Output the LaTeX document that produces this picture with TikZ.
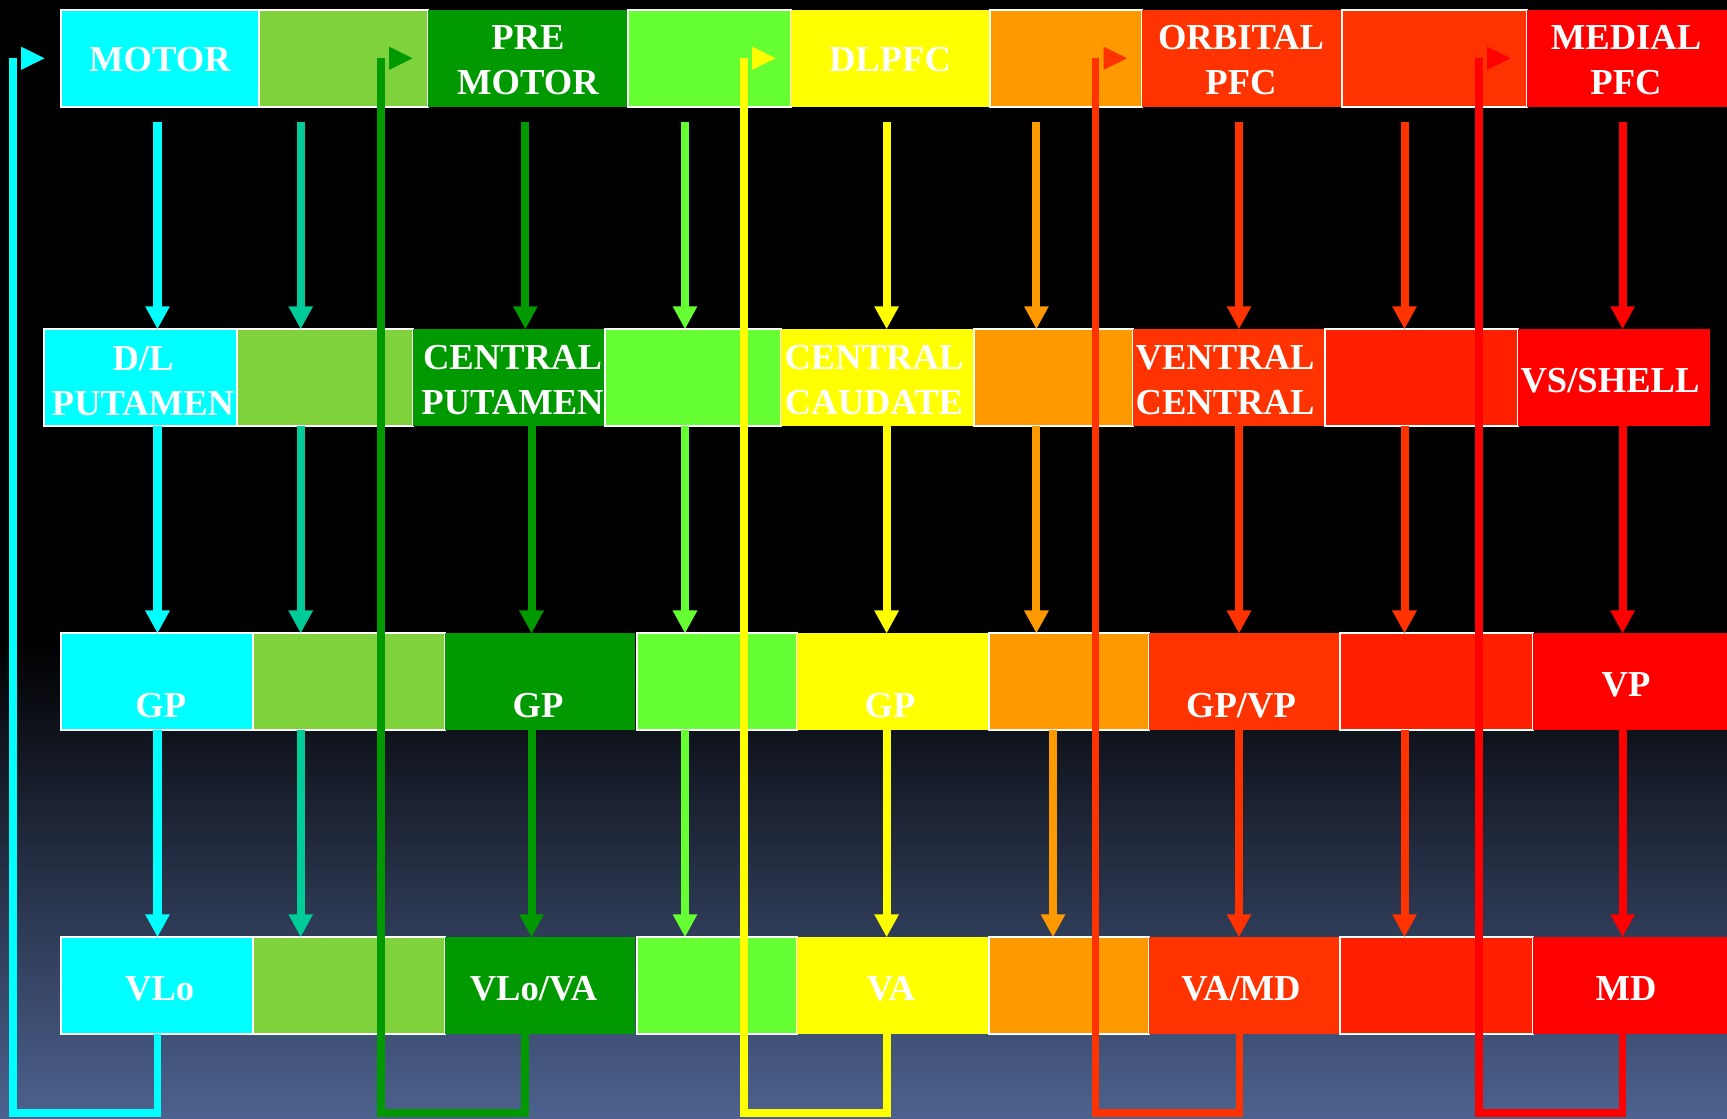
\documentclass[tikz,border=0pt]{standalone}
\usepackage{fontspec}
\setmainfont{Liberation Serif}
\usetikzlibrary{arrows.meta}

\definecolor{cCyan}{HTML}{00FFFF}
\definecolor{cLime}{HTML}{80D23C}
\definecolor{cGreen}{HTML}{009900}
\definecolor{cBright}{HTML}{66FF33}
\definecolor{cYellow}{HTML}{FFFF00}
\definecolor{cOrange}{HTML}{FF9900}
\definecolor{cOrangeRed}{HTML}{FF3300}
\definecolor{cScarlet}{HTML}{FF2000}
\definecolor{cRed}{HTML}{FF0000}
\definecolor{cTeal}{HTML}{00CC99}
\definecolor{cSlate}{RGB}{77,98,143}

\tikzset{
  blk/.style={rectangle, inner sep=0pt, outer sep=0pt, draw=none},
  edged/.style={draw=white, line width=0.02cm},
  lbl/.style={text=white, font=\fontsize{10.4pt}{12.8pt}\selectfont\bfseries,
              align=center, inner sep=0pt},
  arr/.style={draw=#1, line width=0.08cm,
              -{Triangle[length=0.23cm,width=0.23cm]}},
  loopln/.style={draw=#1, line width=0.075cm, line join=miter}
}

% \band{name}{x left}{x right}{y top}{y bottom}{fill}{extra style}
\newcommand\band[7]{%
  \node[blk, fill=#6, #7, minimum width={(#3-#2)*0.01cm},
        minimum height={(#5-#4)*0.01cm}] (#1) at ({(#2+#3)/2},{(#4+#5)/2}) {};}

\begin{document}
\begin{tikzpicture}[x=0.01cm, y=-0.01cm]
  % backdrop: black, fading to slate blue towards the bottom
  \useasboundingbox (0,0) rectangle (1727,1119);
  \fill[black] (0,0) rectangle (1727,1119);
  \shade[top color=black, bottom color=cSlate] (0,640) rectangle (1727,1119);

  % cortex
  \band{r1a}{60.6}{258.8}{10}{107}{cCyan}{edged}
  \band{r1b}{258.8}{428.4}{10}{107}{cLime}{edged}
  \band{r1c}{428.4}{627.8}{10}{107}{cGreen}{}
  \band{r1d}{627.8}{790.8}{10}{107}{cBright}{edged}
  \band{r1e}{790.8}{990}{10}{107}{cYellow}{}
  \band{r1f}{990}{1142}{10}{107}{cOrange}{edged}
  \band{r1g}{1142}{1341.5}{10}{107}{cOrangeRed}{}
  \band{r1h}{1341.5}{1526.5}{10}{107}{cOrangeRed}{edged}
  \band{r1i}{1526.5}{1727}{10}{107}{cRed}{}

  % striatum
  \band{r2a}{44}{236.8}{329.3}{426.2}{cCyan}{edged}
  \band{r2b}{236.8}{413}{329.3}{426.2}{cLime}{edged}
  \band{r2c}{413}{604.7}{329.3}{426.2}{cGreen}{}
  \band{r2d}{604.7}{781}{329.3}{426.2}{cBright}{edged}
  \band{r2e}{781}{973.6}{329.3}{426.2}{cYellow}{}
  \band{r2f}{973.6}{1133.3}{329.3}{426.2}{cOrange}{edged}
  \band{r2g}{1133.3}{1325}{329.3}{426.2}{cOrangeRed}{}
  \band{r2h}{1325}{1517.7}{329.3}{426.2}{cScarlet}{edged}
  \band{r2i}{1517.7}{1710.4}{329.3}{426.2}{cRed}{}

  % pallidum
  \band{r3a}{60.6}{253.3}{633.5}{730.2}{cCyan}{edged}
  \band{r3b}{253.3}{445.3}{633.5}{730.2}{cLime}{edged}
  \band{r3c}{445.3}{635}{633.5}{730.2}{cGreen}{}
  \band{r3d}{636.5}{796.6}{633.5}{730.2}{cBright}{edged}
  \band{r3e}{796.6}{989}{633.5}{730.2}{cYellow}{}
  \band{r3f}{989}{1148.8}{633.5}{730.2}{cOrange}{edged}
  \band{r3g}{1148.8}{1340.4}{633.5}{730.2}{cOrangeRed}{}
  \band{r3h}{1340.4}{1533.1}{633.5}{730.2}{cScarlet}{edged}
  \band{r3i}{1533.1}{1727}{633.5}{730.2}{cRed}{}

  % thalamus
  \band{r4a}{60.6}{253.3}{937.3}{1034.2}{cCyan}{edged}
  \band{r4b}{253.3}{445.3}{937.3}{1034.2}{cLime}{edged}
  \band{r4c}{445.3}{635}{937.3}{1034.2}{cGreen}{}
  \band{r4d}{636.5}{796.6}{937.3}{1034.2}{cBright}{edged}
  \band{r4e}{796.6}{989}{937.3}{1034.2}{cYellow}{}
  \band{r4f}{989}{1148.8}{937.3}{1034.2}{cOrange}{edged}
  \band{r4g}{1148.8}{1340.4}{937.3}{1034.2}{cOrangeRed}{}
  \band{r4h}{1340.4}{1533.1}{937.3}{1034.2}{cScarlet}{edged}
  \band{r4i}{1533.1}{1727}{937.3}{1034.2}{cRed}{}

  % labels
  \node[lbl] (tMotor)   at (160,59.8)  {MOTOR};
  \node[lbl] (tPre)     at (528,60.5)  {PRE\\MOTOR};
  \node[lbl] (tDl)      at (890,59.8)  {DLPFC};
  \node[lbl] (tOrb)     at (1241,60.5) {ORBITAL\\PFC};
  \node[lbl] (tMed)     at (1626,60.5) {MEDIAL\\PFC};

  \node[lbl] (tDlPut)   at (143,381)   {D/L\\PUTAMEN};
  \node[lbl] (tCPut)    at (512.5,380.5) {CENTRAL\\PUTAMEN};
  \node[lbl] (tCCau)    at (874,380.5) {CENTRAL\\CAUDATE};
  \node[lbl] (tVC)      at (1225,380.5) {VENTRAL\\CENTRAL};
  \node[lbl] (tVS)      at (1610,380.5) {VS/SHELL};

  \node[lbl] (tGp1)     at (160.7,706) {GP};
  \node[lbl] (tGp2)     at (538,706)   {GP};
  \node[lbl] (tGp3)     at (890,706)   {GP};
  \node[lbl] (tGpVp)    at (1241,706)  {GP/VP};
  \node[lbl] (tVp)      at (1626,684.5) {VP};

  \node[lbl] (tVlo)     at (159.7,989) {VLo};
  \node[lbl] (tVloVa)   at (533.5,989) {VLo/VA};
  \node[lbl] (tVa)      at (891,989)   {VA};
  \node[lbl] (tVaMd)    at (1241,989)  {VA/MD};
  \node[lbl] (tMd)      at (1626,989)  {MD};

  % arrow columns
  \coordinate (k1)  at (157.5,0);
  \coordinate (k2)  at (300.7,0);
  \coordinate (k3)  at (525.4,0);
  \coordinate (k3b) at (531.5,0);
  \coordinate (k4)  at (685,0);
  \coordinate (k5)  at (886.6,0);
  \coordinate (k6)  at (1036.4,0);
  \coordinate (k6b) at (1053,0);
  \coordinate (k7)  at (1239,0);
  \coordinate (k8)  at (1404.5,0);
  \coordinate (k9)  at (1622.6,0);

  % cortex -> striatum
  \foreach \s/\t/\k/\c in {r1a/r2a/k1/cCyan, r1b/r2b/k2/cTeal, r1c/r2c/k3/cGreen,
      r1d/r2d/k4/cBright, r1e/r2e/k5/cYellow, r1f/r2f/k6/cOrange,
      r1g/r2g/k7/cOrangeRed, r1h/r2h/k8/cOrangeRed, r1i/r2i/k9/cRed}
    \draw[arr=\c, shorten <=0.15cm] (\s.south -| \k) -- (\t.north -| \k);

  % striatum -> pallidum
  \foreach \s/\t/\k/\c in {r2a/r3a/k1/cCyan, r2b/r3b/k2/cTeal, r2c/r3c/k3b/cGreen,
      r2d/r3d/k4/cBright, r2e/r3e/k5/cYellow, r2f/r3f/k6/cOrange,
      r2g/r3g/k7/cOrangeRed, r2h/r3h/k8/cOrangeRed, r2i/r3i/k9/cRed}
    \draw[arr=\c] (\s.south -| \k) -- (\t.north -| \k);

  % pallidum -> thalamus
  \foreach \s/\t/\k/\c in {r3a/r4a/k1/cCyan, r3b/r4b/k2/cTeal, r3c/r4c/k3b/cGreen,
      r3d/r4d/k4/cBright, r3e/r4e/k5/cYellow, r3f/r4f/k6b/cOrange,
      r3g/r4g/k7/cOrangeRed, r3h/r4h/k8/cOrangeRed, r3i/r4i/k9/cRed}
    \draw[arr=\c] (\s.south -| \k) -- (\t.north -| \k);

  % thalamo-cortical return loops
  \coordinate (floor) at (0,1113);
  \foreach \src/\dx/\up/\c in {r4a/157.5/13/cCyan, r4c/525/381/cGreen,
      r4e/887/744/cYellow, r4g/1239.6/1095.5/cOrangeRed, r4i/1622.7/1479/cRed}
  {
    \coordinate (drop) at (\dx,0);
    \coordinate (rise) at (\up,58.3);
    \draw[loopln=\c] (\src.south -| drop) -- (drop |- floor) -- (rise |- floor) -- (rise);
    \fill[\c] (rise) ++(8,-11.65) -- ++(0,23.3) -- ++(23.5,-11.65) -- cycle;
  }
\end{tikzpicture}
\end{document}
